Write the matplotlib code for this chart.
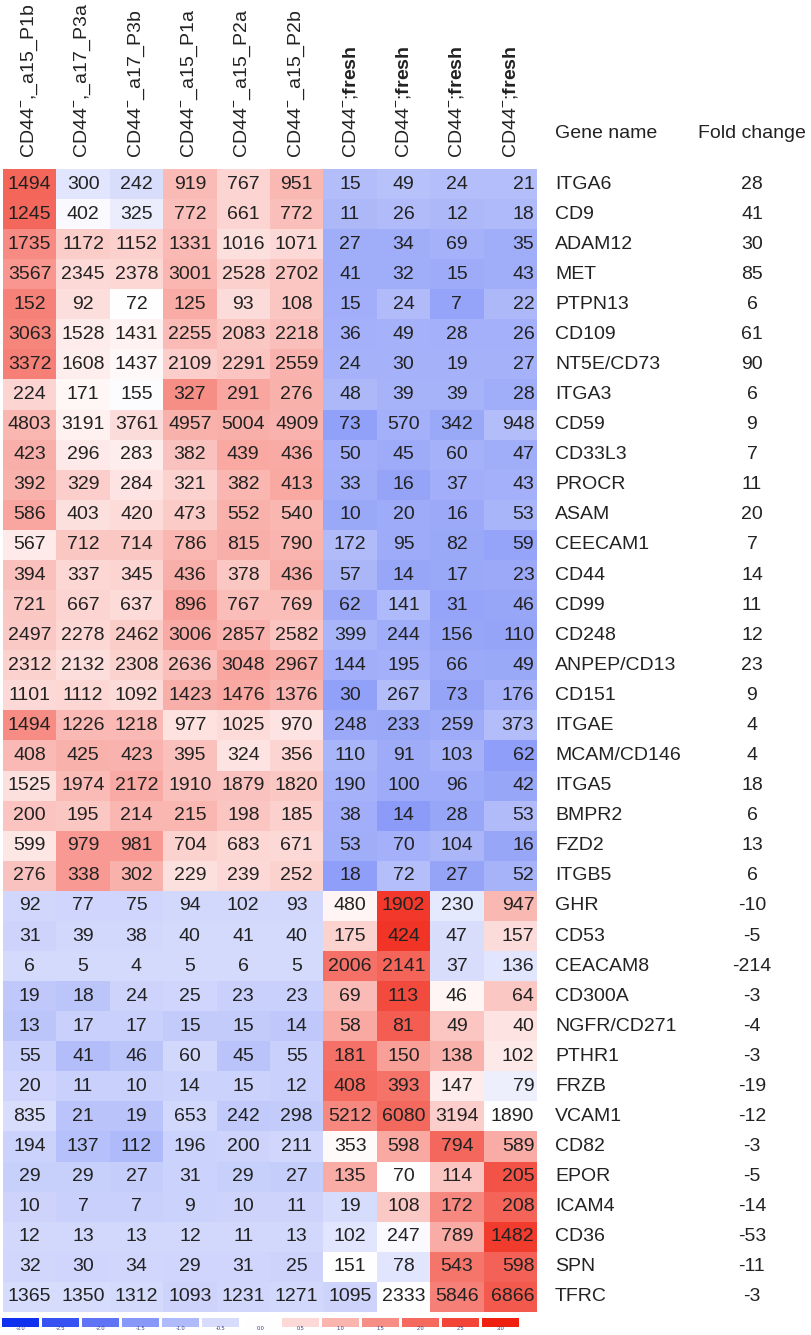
import numpy as np
import matplotlib
matplotlib.use('Agg')
import matplotlib.pyplot as plt
from matplotlib.colors import LinearSegmentedColormap

plt.rcParams['font.family'] = ['Liberation Sans', 'DejaVu Sans']
plt.rcParams['mathtext.fontset'] = 'custom'
plt.rcParams['mathtext.rm'] = 'Liberation Sans'
plt.rcParams['mathtext.bf'] = 'Liberation Sans:bold'

# ── Données ────────────────────────────────────────────────────────────
samples = [r"CD44$^{-}$,_a15_P1b", r"CD44$^{-}$,_a17_P3a", r"CD44$^{-}$_a17_P3b",
           r"CD44$^{-}$_a15_P1a", r"CD44$^{-}$_a15_P2a", r"CD44$^{-}$_a15_P2b",
           r"CD44$^{-}$;$\mathbf{fresh}$", r"CD44$^{-}$;$\mathbf{fresh}$",
           r"CD44$^{-}$;$\mathbf{fresh}$", r"CD44$^{-}$;$\mathbf{fresh}$"]

genes = ["ITGA6", "CD9", "ADAM12", "MET", "PTPN13", "CD109", "NT5E/CD73", "ITGA3",
         "CD59", "CD33L3", "PROCR", "ASAM", "CEECAM1", "CD44", "CD99", "CD248",
         "ANPEP/CD13", "CD151", "ITGAE", "MCAM/CD146", "ITGA5", "BMPR2", "FZD2",
         "ITGB5", "GHR", "CD53", "CEACAM8", "CD300A", "NGFR/CD271", "PTHR1", "FRZB",
         "VCAM1", "CD82", "EPOR", "ICAM4", "CD36", "SPN", "TFRC"]

fold_change = [28, 41, 30, 85, 6, 61, 90, 6, 9, 7, 11, 20, 7, 14, 11, 12, 23, 9, 4, 4,
               18, 6, 13, 6, -10, -5, -214, -3, -4, -3, -19, -12, -3, -5, -14, -53, -11, -3]

values = [
    [1494, 300, 242, 919, 767, 951, 15, 49, 24, 21],
    [1245, 402, 325, 772, 661, 772, 11, 26, 12, 18],
    [1735, 1172, 1152, 1331, 1016, 1071, 27, 34, 69, 35],
    [3567, 2345, 2378, 3001, 2528, 2702, 41, 32, 15, 43],
    [152, 92, 72, 125, 93, 108, 15, 24, 7, 22],
    [3063, 1528, 1431, 2255, 2083, 2218, 36, 49, 28, 26],
    [3372, 1608, 1437, 2109, 2291, 2559, 24, 30, 19, 27],
    [224, 171, 155, 327, 291, 276, 48, 39, 39, 28],
    [4803, 3191, 3761, 4957, 5004, 4909, 73, 570, 342, 948],
    [423, 296, 283, 382, 439, 436, 50, 45, 60, 47],
    [392, 329, 284, 321, 382, 413, 33, 16, 37, 43],
    [586, 403, 420, 473, 552, 540, 10, 20, 16, 53],
    [567, 712, 714, 786, 815, 790, 172, 95, 82, 59],
    [394, 337, 345, 436, 378, 436, 57, 14, 17, 23],
    [721, 667, 637, 896, 767, 769, 62, 141, 31, 46],
    [2497, 2278, 2462, 3006, 2857, 2582, 399, 244, 156, 110],
    [2312, 2132, 2308, 2636, 3048, 2967, 144, 195, 66, 49],
    [1101, 1112, 1092, 1423, 1476, 1376, 30, 267, 73, 176],
    [1494, 1226, 1218, 977, 1025, 970, 248, 233, 259, 373],
    [408, 425, 423, 395, 324, 356, 110, 91, 103, 62],
    [1525, 1974, 2172, 1910, 1879, 1820, 190, 100, 96, 42],
    [200, 195, 214, 215, 198, 185, 38, 14, 28, 53],
    [599, 979, 981, 704, 683, 671, 53, 70, 104, 16],
    [276, 338, 302, 229, 239, 252, 18, 72, 27, 52],
    [92, 77, 75, 94, 102, 93, 480, 1902, 230, 947],
    [31, 39, 38, 40, 41, 40, 175, 424, 47, 157],
    [6, 5, 4, 5, 6, 5, 2006, 2141, 37, 136],
    [19, 18, 24, 25, 23, 23, 69, 113, 46, 64],
    [13, 17, 17, 15, 15, 14, 58, 81, 49, 40],
    [55, 41, 46, 60, 45, 55, 181, 150, 138, 102],
    [20, 11, 10, 14, 15, 12, 408, 393, 147, 79],
    [835, 21, 19, 653, 242, 298, 5212, 6080, 3194, 1890],
    [194, 137, 112, 196, 200, 211, 353, 598, 794, 589],
    [29, 29, 27, 31, 29, 27, 135, 70, 114, 205],
    [10, 7, 7, 9, 10, 11, 19, 108, 172, 208],
    [12, 13, 13, 12, 11, 13, 102, 247, 789, 1482],
    [32, 30, 34, 29, 31, 25, 151, 78, 543, 598],
    [1365, 1350, 1312, 1093, 1231, 1271, 1095, 2333, 5846, 6866],
]

legend_levels = [-3.0, -2.5, -2.0, -1.5, -1.0, -0.5, 0.0, 0.5, 1.0, 1.5, 2.0, 2.5, 3.0]

# ── Normalisation par ligne (z-score) ─────────────────────────────────
arr = np.array(values, dtype=float)
z = (arr - arr.mean(axis=1, keepdims=True)) / arr.std(axis=1, keepdims=True)

cmap = LinearSegmentedColormap.from_list(
    'bwr_doux', ['#1030f0', '#ffffff', '#f02010'])

W, H = 812, 1335
fig = plt.figure(figsize=(W / 100, H / 100), dpi=100)
FS = 14
TXT = '#222222'

def px_axes(x0, y0, x1, y1):
    return fig.add_axes([x0 / W, 1 - y1 / H, (x1 - x0) / W, (y1 - y0) / H])

# ── Heatmap ───────────────────────────────────────────────────────────
ax = px_axes(3, 169, 537, 1312)
nr, nc = arr.shape
ax.imshow(z, cmap=cmap, vmin=-3, vmax=3, aspect='auto', interpolation='nearest',
          extent=(-0.5, nc - 0.5, nr - 0.5, -0.5))
for i in range(nr):
    for j in range(nc):
        ha = 'right' if j == nc - 1 else 'center'
        xx = j + 0.45 if j == nc - 1 else j
        ax.text(xx, i, f"{values[i][j]}", ha=ha, va='center', fontsize=FS, color=TXT)
ax.set_xlim(-0.5, nc - 0.5)
ax.set_ylim(nr - 0.5, -0.5)
ax.axis('off')

# ── Noms des colonnes, gènes, fold change ─────────────────────────────
for j, s in enumerate(samples):
    xc = 3 + (j + 0.5) * (534 / nc)
    fig.text(xc / W, 1 - 158 / H, s, rotation=90, ha='center', va='bottom',
             fontsize=FS, color=TXT)

fig.text(555 / W, 1 - 134 / H, "Gene name", ha='left', va='center', fontsize=FS, color=TXT)
fig.text(698 / W, 1 - 134 / H, "Fold change", ha='left', va='center', fontsize=FS, color=TXT)

for i, (g, f) in enumerate(zip(genes, fold_change)):
    yc = 169 + (i + 0.5) * (1143 / nr)
    fig.text(555 / W, 1 - yc / H, g, ha='left', va='center', fontsize=FS, color=TXT)
    fig.text(752 / W, 1 - yc / H, f"{f}", ha='center', va='center', fontsize=FS, color=TXT)

# ── Légende de couleur discrète ───────────────────────────────────────
axl = px_axes(2, 1318, 522, 1330)
for k, lv in enumerate(legend_levels):
    axl.bar(k, 1, width=0.92, bottom=0.35, color=cmap((lv + 3) / 6), align='edge')
    axl.text(k + 0.46, 0.15, f"{lv:.1f}", ha='center', va='center', fontsize=4, color='#334488')
axl.set_xlim(0, len(legend_levels))
axl.set_ylim(0, 1.35)
axl.axis('off')

fig.savefig('out.png', dpi=100)
